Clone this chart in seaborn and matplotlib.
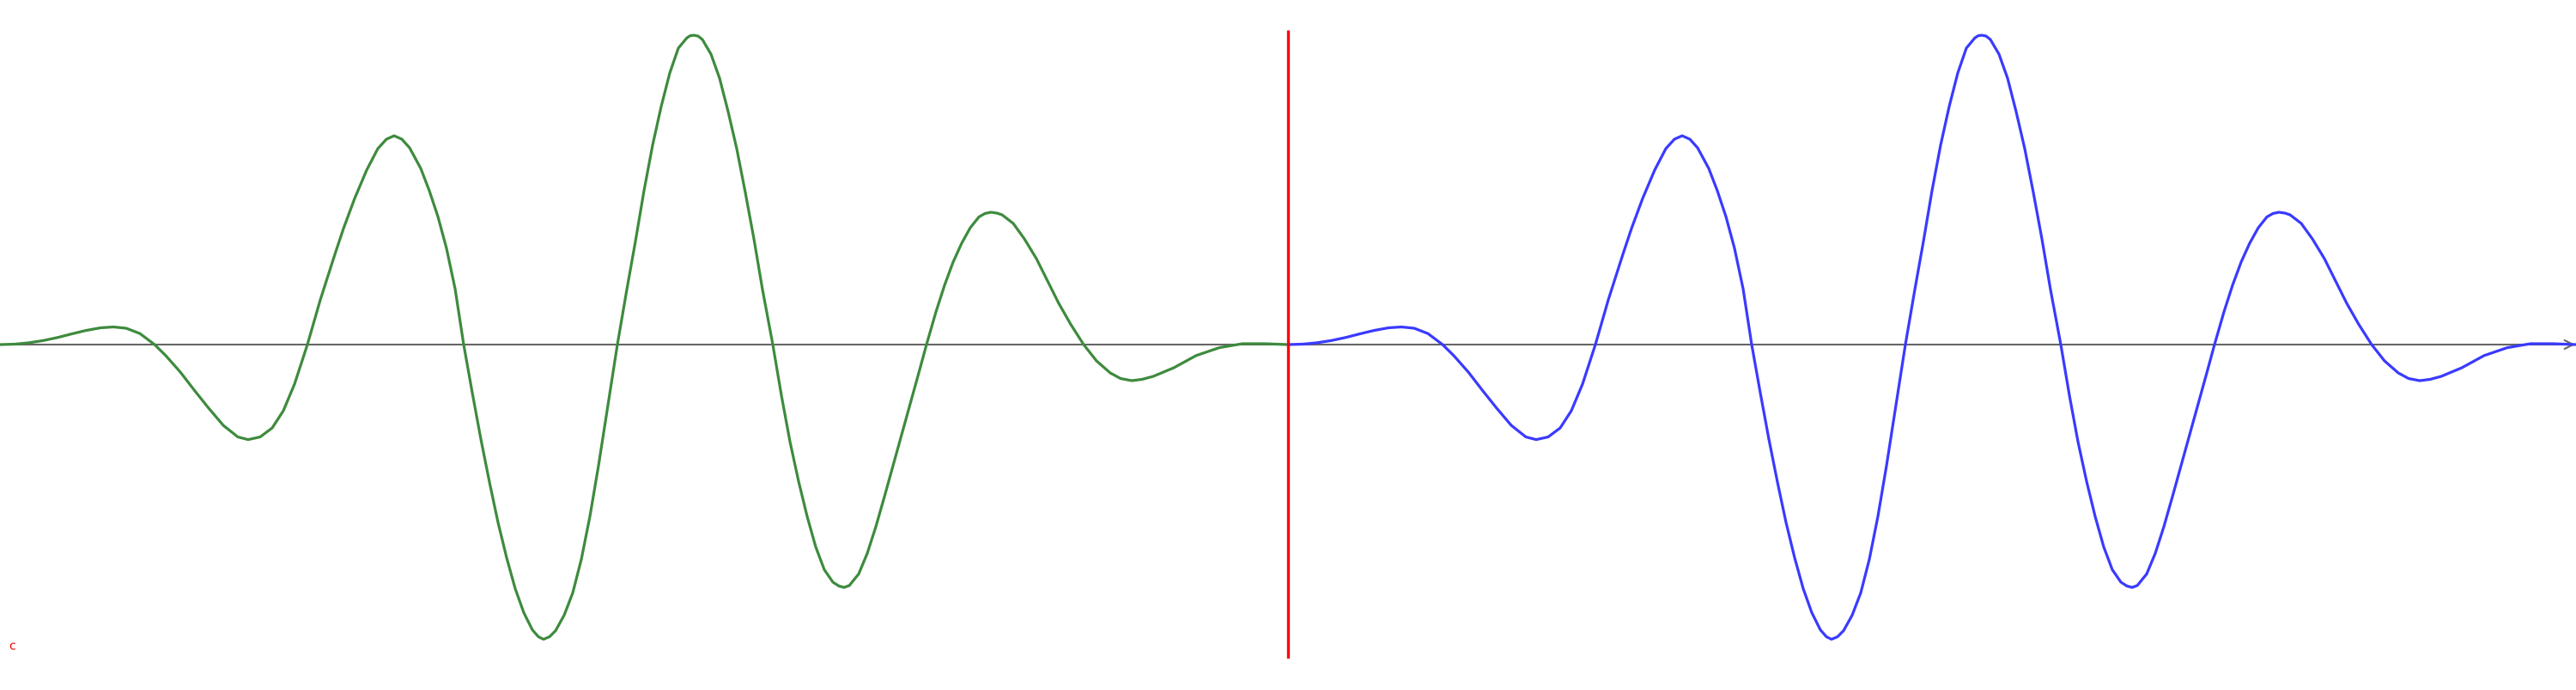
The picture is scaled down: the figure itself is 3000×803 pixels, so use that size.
import matplotlib

matplotlib.use("Agg")
import matplotlib.pyplot as plt
import pandas as pd
import seaborn as sns

# one period of the wave (x in px along the period,
# displacement in px above the axis)
period_x = [0, 17, 33, 50, 67, 83, 100, 117, 132, 147, 163, 180,
            193, 210, 227, 243, 260, 277, 289, 303, 317, 330, 343, 358,
            373, 390, 400, 413, 427, 440, 450, 459, 468, 477, 490, 500,
            510, 520, 530, 540, 550, 560, 570, 580, 590, 600, 610, 620, 627, 633,
            640, 647, 657, 667, 677, 687, 697, 707, 719, 730, 740, 750, 760, 770,
            780, 790, 800, 804, 808, 813, 818, 828, 838, 848, 858, 868, 878, 888, 900,
            910, 920, 930, 940, 950, 960, 970, 977, 983, 989, 1000,
            1010, 1020, 1030, 1040, 1050, 1060, 1070, 1079, 1090, 1100, 1110,
            1120, 1130, 1140, 1147, 1154, 1161, 1167, 1180, 1193, 1207, 1220, 1233, 1247,
            1262, 1277, 1293, 1305, 1318, 1330, 1343, 1367, 1393, 1420, 1447, 1473, 1500]
displacement = [0, 0.5, 2, 4.6, 8.2, 12.3, 16.4, 19.5, 20.5, 19, 12.8, 0,
                -12.8, -32, -54, -74, -94, -107.5, -110.6, -107.5, -97, -77, -46, 0,
                52, 105, 135, 170, 203, 228, 239, 243, 239, 229, 205, 179,
                149, 112, 65, 0, -56, -110, -160, -207, -248, -284, -312, -332, -340, -343,
                -340, -333, -315, -289, -250, -200, -141, -77, 0, 64, 120, 179, 232, 277,
                316, 345, 357, 359.5, 360, 359, 355, 338, 310, 271, 228, 177, 123, 64, 0,
                -59, -113, -159, -200, -235.5, -262, -276.5, -281, -282.6, -280.5, -267,
                -243, -212, -177, -141, -105, -69, -33, 0, 38, 69, 96,
                118, 136, 148.5, 152.5, 154, 153, 151, 141, 123, 100, 74, 48, 23.5,
                0, -19, -33, -39.5, -42, -40.5, -37, -27, -12.8, -3.6, 1, 1, 0]
period_length = 1500
label_text = "c"

GREEN = "#3d8b3d"
BLUE = "#3a3aff"

first = pd.DataFrame({"x": period_x, "y": displacement})
second = pd.DataFrame({"x": [x + period_length for x in period_x], "y": displacement})

fig = plt.figure(figsize=(30, 8.04), dpi=100)
ax = fig.add_axes([0, 0, 1, 1])
ax.set_xlim(0, 2 * period_length)
ax.set_ylim(-402, 402)
ax.axis("off")

# horizontal axis with arrow head
ax.annotate("", xy=(2 * period_length - 1, 0), xytext=(0, 0),
            arrowprops=dict(arrowstyle="->", color="#666666", lw=1.5, mutation_scale=18,
                            shrinkA=0, shrinkB=0), zorder=1)

for df, colour in [(first, GREEN), (second, BLUE)]:
    sns.lineplot(data=df, x="x", y="y", color=colour, linewidth=2.3, sort=False, ax=ax,
                 zorder=2, solid_joinstyle="round", solid_capstyle="round")

ax.vlines(period_length, -365, 366, color="#ff0000", linewidth=2.4, zorder=3)

ax.text(10, -350, label_text, color="#ff0000", fontsize=10, va="center", ha="left")

fig.savefig("out.png", dpi=100)
